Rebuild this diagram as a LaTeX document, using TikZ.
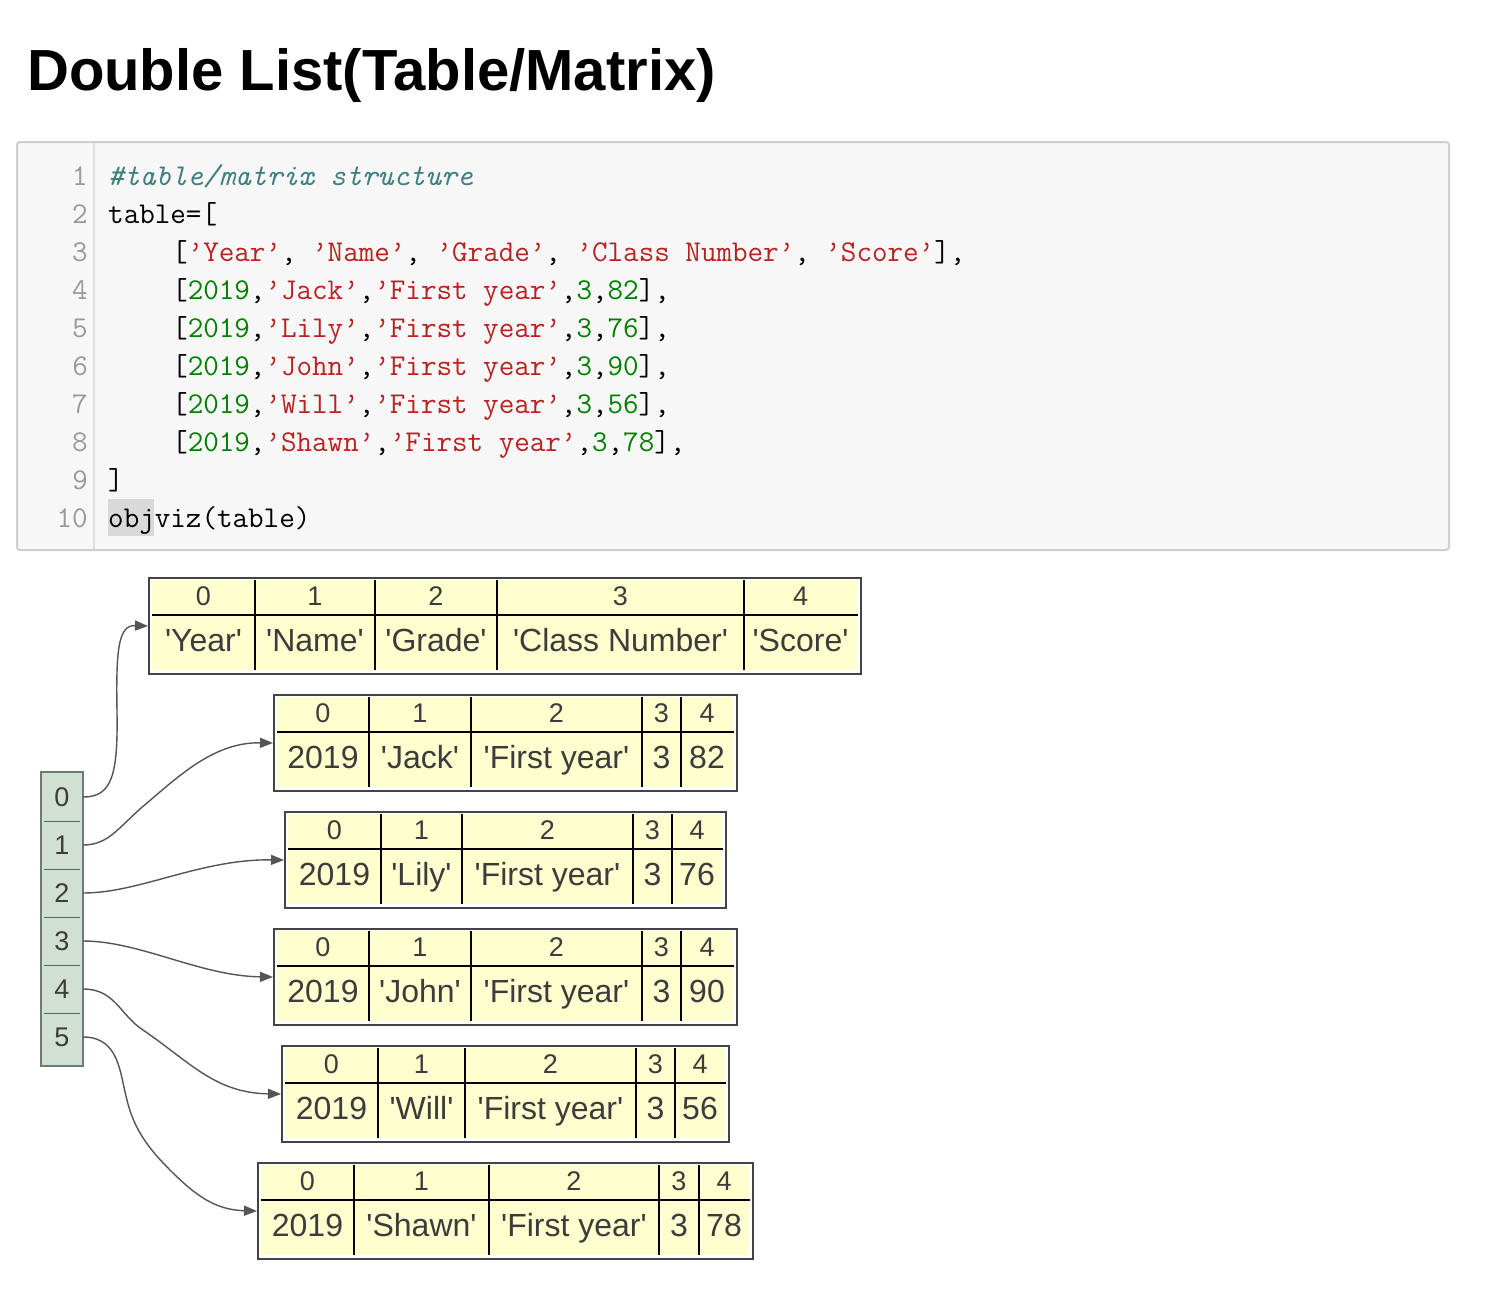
\documentclass[tikz,border=0pt]{standalone}
\usepackage{fontspec}
\newfontfamily\arialf{Liberation Sans}
\usetikzlibrary{arrows.meta}
\definecolor{codebg}{HTML}{F7F7F7}
\definecolor{codeborder}{HTML}{CFCFCF}
\definecolor{gutter}{HTML}{DDDDDD}
\definecolor{lineno}{HTML}{999999}
\definecolor{ccomment}{HTML}{408080}
\definecolor{cstr}{HTML}{BA2121}
\definecolor{cnum}{HTML}{008000}
\definecolor{hilite}{HTML}{D9D9D9}
\definecolor{cellyellow}{HTML}{FEFECE}
\definecolor{framec}{HTML}{444444}
\definecolor{tabtext}{HTML}{3C3C3C}
\definecolor{sage}{HTML}{D0E0D3}
\definecolor{listborder}{HTML}{6F7B72}
\definecolor{edgec}{HTML}{555555}
\newcommand\q{\textquotesingle}
\newcommand\codefont{\fontsize{30.2}{38}\selectfont\ttfamily}
\newcommand\cs[1]{\textcolor{cstr}{#1}}
\newcommand\cn[1]{\textcolor{cnum}{#1}}
\newcommand\objtable[5]{%
  \node[tframe, minimum width={#3-#2}, minimum height=96, anchor=north west] (#1) at (#2,#4) {};
  \fill[cellyellow] (#2+4,#4+3) rectangle (#3-3,#4+93);
  \draw[cellline] (#2+4,#4+38) -- (#3-2,#4+38);
  \foreach \a/\b/\v [count=\i from 0] in {#5} {%
    \node[hdr] (#1h\i) at ({(\a+\b)/2},#4+28.7) {\i};
    \node[val] (#1v\i) at ({(\a+\b)/2},#4+74.5) {\v};
    \ifnum\i>0 \draw[cellline] (\a,#4+3) -- (\a,#4+93);\fi
  }%
}
\begin{document}
\begin{tikzpicture}[x=1pt,y=-1pt,
  tframe/.style={draw=framec, line width=2pt, fill=white, inner sep=0pt, rectangle},
  cellline/.style={draw=black, line width=1.5pt},
  hdr/.style={font=\arialf\fontsize{27}{30}\selectfont, text=tabtext, inner sep=0pt, anchor=base},
  val/.style={font=\arialf\fontsize{32}{36}\selectfont, text=tabtext, inner sep=0pt, anchor=base},
  lcell/.style={font=\arialf\fontsize{27}{30}\selectfont, text=tabtext, inner sep=0pt, minimum width=42pt, minimum height=48pt},
  edge/.style={draw=edgec, line width=1.4pt, -{Triangle[length=13pt,width=10pt]}},
  codeline/.style={font=\codefont, anchor=base west, inner sep=0pt},
  lnum/.style={font=\codefont, text=lineno, anchor=base east, inner sep=0pt}]
\useasboundingbox (0,0) rectangle (1486,1312);
\fill[white] (0,0) rectangle (1486,1312);

% title
\node[anchor=base west, inner sep=0pt] (title) at (27,90) {\arialf\bfseries\fontsize{58}{62}\selectfont Double List(Table/Matrix)};

% code block
\draw[codeborder, fill=codebg, line width=2pt, rounded corners=3pt] (17,142) rectangle (1449,550);
\draw[gutter, line width=2pt] (94,143) -- (94,549);
\fill[hilite] (108,499) rectangle (154,536);
\foreach \n [count=\k from 0] in {1,...,10} {
  \node[lnum] (ln\n) at (88,185+38*\k) {\n};
}
\frenchspacing
\node[codeline] (c1) at (108,185) {\textcolor{ccomment}{\itshape\#table/matrix structure}};
\node[codeline] (c2) at (108,223) {table=[};
\node[codeline] (c3) at (172,261) {[\cs{’Year’}, \cs{’Name’}, \cs{’Grade’}, \cs{’Class Number’}, \cs{’Score’}],};
\node[codeline] (c4) at (172,299) {[\cn{2019},\cs{’Jack’},\cs{’First year’},\cn{3},\cn{82}],};
\node[codeline] (c5) at (172,337) {[\cn{2019},\cs{’Lily’},\cs{’First year’},\cn{3},\cn{76}],};
\node[codeline] (c6) at (172,375) {[\cn{2019},\cs{’John’},\cs{’First year’},\cn{3},\cn{90}],};
\node[codeline] (c7) at (172,413) {[\cn{2019},\cs{’Will’},\cs{’First year’},\cn{3},\cn{56}],};
\node[codeline] (c8) at (172,451) {[\cn{2019},\cs{’Shawn’},\cs{’First year’},\cn{3},\cn{78}],};
\node[codeline] (c9) at (108,489) {]};
\node[codeline] (c10) at (108,527) {objviz(table)};

% tables
\objtable{t0}{148}{860}{577}{152/255/\q Year\q, 255/375/\q Name\q, 375/497/\q Grade\q, 497/744/\q Class Number\q, 744/857/\q Score\q}
\objtable{t1}{273}{736}{694}{277/369/2019, 369/471/\q Jack\q, 471/642/\q First year\q, 642/681/3, 681/733/82}
\objtable{t2}{284}{725}{811}{288/381/2019, 381/462/\q Lily\q, 462/633/\q First year\q, 633/672/3, 672/722/76}
\objtable{t3}{273}{736}{928}{277/369/2019, 369/471/\q John\q, 471/642/\q First year\q, 642/681/3, 681/733/90}
\objtable{t4}{281}{728}{1045}{285/378/2019, 378/465/\q Will\q, 465/636/\q First year\q, 636/675/3, 675/725/56}
\objtable{t5}{257}{752}{1162}{261/354/2019, 354/489/\q Shawn\q, 489/659/\q First year\q, 659/699/3, 699/749/78}

% list node
\draw[listborder, fill=sage, line width=2pt] (41,772) rectangle (83,1066);
\foreach \j in {0,...,5} {
  \node[lcell] (l\j) at (62,797+48*\j) {\j};
}
\foreach \j in {0,...,4} {
  \draw[listborder!80!black, line width=1.5pt] (44,821.5+48*\j) -- (80,821.5+48*\j);
}

% edges
\draw[edge] (l0.east) .. controls (112,797) and (118,775) .. (117,712) .. controls (116,650) and (118,625) .. (t0.west);
\draw[edge] (l1.east) .. controls (110,845) and (120,825) .. (147,803) .. controls (180,775) and (215,742) .. (t1.west);
\draw[edge] (l2.east) .. controls (140,893) and (200,859) .. (t2.west);
\draw[edge] (l3.east) .. controls (140,941) and (200,976) .. (t3.west);
\draw[edge] (l4.east) .. controls (115,989) and (120,1015) .. (143,1030) .. controls (190,1062) and (215,1093) .. (t4.west);
\draw[edge] (l5.east) .. controls (120,1037) and (120,1075) .. (127,1100) .. controls (134,1130) and (150,1150) .. (170,1170) .. controls (195,1195) and (215,1210) .. (t5.west);
\end{tikzpicture}
\end{document}
